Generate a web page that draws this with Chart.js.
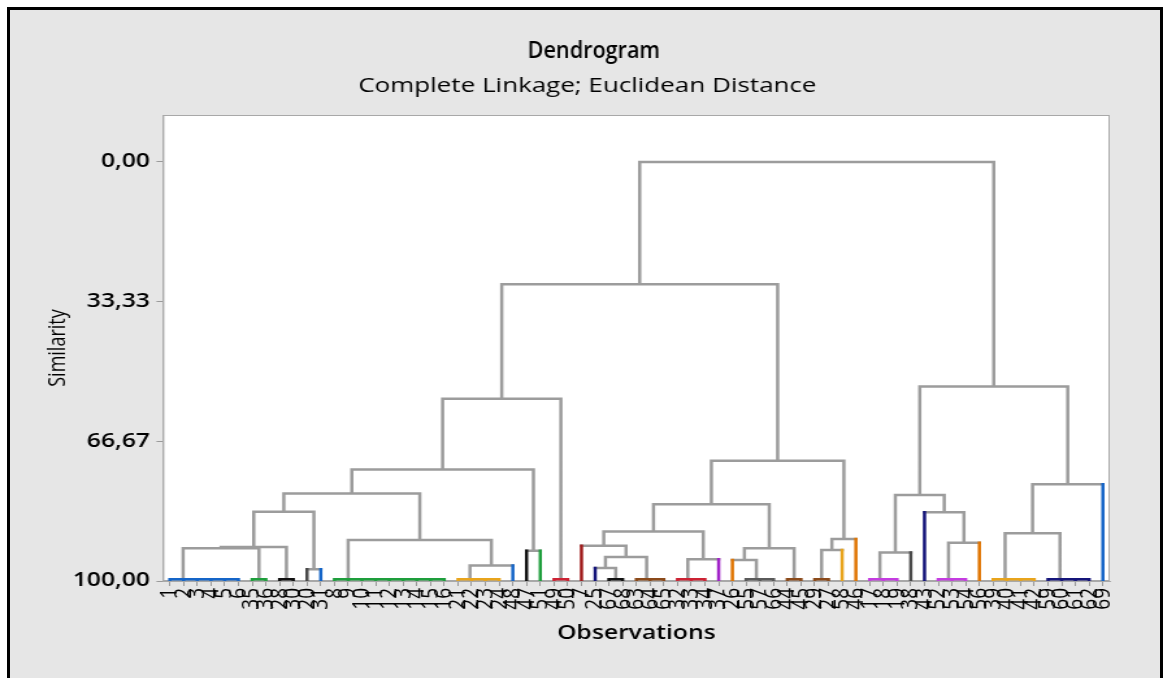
<!DOCTYPE html>
<html>
<head>
<meta charset="utf-8">
<script src="https://cdn.jsdelivr.net/npm/chart.js@4.4.1/dist/chart.umd.min.js"></script>
<style>
  html, body { margin: 0; padding: 0; background: #fff; overflow: hidden; }
  #frame { position: absolute; left: 7px; top: 7px; width: 1156px; height: 680px; background: #e6e6e6;
           border-left: 3px solid #000; border-top: 3px solid #000; border-right: 3px solid #000; box-sizing: border-box; }
  /* the reference picture is stretched sideways, so the chart is drawn narrow and widened */
  #wrap { position: absolute; left: 0; top: 0; width: 895px; height: 678px; transform: scaleX(1.29944); transform-origin: 0 0; }
</style>
</head>
<body>
<div id="frame"></div>
<div id="wrap"><canvas id="dendro" width="895" height="678"></canvas></div>
<script>
var STRETCH = 1.29944;

// leaf order along the x axis
var observations = [1, 2, 3, 4, 5, 6, 35, 36, 28, 30, 20, 31, 8, 9, 10, 11, 12, 13, 14, 15, 16, 21, 22, 23, 24, 48, 47, 51, 49, 50,
  7, 25, 67, 68, 63, 64, 65, 32, 33, 34, 37, 26, 55, 57, 66, 44, 45, 29, 27, 58, 46,
  17, 18, 19, 38, 43, 52, 53, 54, 56, 39, 40, 41, 42, 59, 60, 61, 62, 69];

// [left, right, similarity] ; positive = observation, negative = earlier merge number (1-based)
var merges = [
  [5, 6, 99.6], [4, -1, 99.6], [3, -2, 99.6], [2, -3, 99.6], [1, -4, 99.6],
  [35, 36, 99.6],
  [28, 30, 99.6],
  [15, 16, 99.6], [14, -8, 99.6], [13, -9, 99.6], [12, -10, 99.6], [11, -11, 99.6], [10, -12, 99.6], [9, -13, 99.6], [8, -14, 99.6],
  [23, 24, 99.6], [22, -16, 99.6], [21, -17, 99.6],
  [49, 50, 99.6],
  [67, 68, 99.6],
  [64, 65, 99.6], [63, -21, 99.6],
  [33, 34, 99.6], [32, -23, 99.6],
  [57, 66, 99.6], [55, -25, 99.6],
  [44, 45, 99.6],
  [29, 27, 99.6],
  [18, 19, 99.6], [17, -29, 99.6],
  [53, 54, 99.6], [52, -31, 99.6],
  [41, 42, 99.6], [40, -33, 99.6], [39, -34, 99.6],
  [61, 62, 99.6], [60, -36, 99.6], [59, -37, 99.6],
  [20, 31, 97.2],
  [-18, 48, 96.3],
  [47, 51, 92.8],
  [-5, -6, 92.2],
  [-42, -7, 91.9],
  [-43, -39, 83.5],
  [-15, -40, 90.2],
  [-44, -45, 79.1],
  [-46, -41, 73.4],
  [-47, -19, 56.5],
  [25, -20, 96.9],
  [-49, -22, 94.3],
  [7, -50, 91.6],
  [-24, 37, 94.8],
  [-51, -52, 88.2],
  [26, -26, 95.0],
  [-54, -27, 92.2],
  [-53, -55, 81.7],
  [-28, 58, 92.6],
  [-57, 46, 90.0],
  [-56, -58, 71.3],
  [-48, -59, 29.2],
  [-30, 38, 93.2],
  [-32, 56, 90.9],
  [43, -62, 83.6],
  [-61, -63, 79.5],
  [-35, -38, 88.6],
  [-65, 69, 76.9],
  [-64, -66, 53.6],
  [-60, -67, 0]
];

// final partition
var clusters = [
  [1, 2, 3, 4, 5, 6], [35, 36], [28, 30], [20], [31], [8, 9, 10, 11, 12, 13, 14, 15, 16], [21, 22, 23, 24],
  [48], [47], [51], [49, 50], [7], [25], [67, 68], [63, 64, 65], [32, 33, 34], [37], [26], [55, 57, 66],
  [44, 45], [29, 27], [58], [46], [17, 18, 19], [38], [43], [52, 53, 54], [56], [39, 40, 41, 42], [59, 60, 61, 62], [69]
];
var clusterColors = [
  '#1565c8', '#1e9e3c', '#111111', '#4a4a4a', '#1565c8', '#1e9e3c', '#e8a41c',
  '#1565c8', '#111111', '#1e9e3c', '#cc2233', '#a01c1c', '#15157a', '#111111', '#8b4a1a', '#cc2233', '#a020c8', '#e07400', '#5a5a5a',
  '#8b4a1a', '#8b4a1a', '#e8a41c', '#e07400', '#c43ce0', '#4a4a4a', '#15157a', '#c43ce0', '#e07400', '#e8a41c', '#15157a', '#1565c8'
];

var similarityTicks = [0, 33.33, 66.67, 100];
var similarityLabels = ['0,00', '33,33', '66,67', '100,00'];

var GREY = '#9c9c9c';

// build the link segments from the tree
var leafCluster = {};
clusters.forEach(function(c, k){ c.forEach(function(o){ leafCluster[o] = k; }); });

var nodes = {};
observations.forEach(function(o, i){
  nodes['o' + o] = { x: i + 0.5, y: 100, cluster: leafCluster[o], leaf: true };
});
function node(ref){ return ref > 0 ? nodes['o' + ref] : nodes['m' + (-ref)]; }

var segs = {};
function addSeg(color, x1, y1, x2, y2){
  if (!segs[color]) segs[color] = [];
  segs[color].push({x: x1, y: y1}, {x: x2, y: y2}, {x: x2, y: null});
}

merges.forEach(function(m, k){
  var a = node(m[0]), b = node(m[1]), h = m[2];
  var inside = a.cluster >= 0 && a.cluster === b.cluster;
  var col = inside ? clusterColors[a.cluster] : GREY;
  [a, b].forEach(function(c){
    var vc = inside ? col : (c.leaf ? clusterColors[c.cluster] : GREY);
    addSeg(vc, c.x, c.y, c.x, h);
  });
  addSeg(col, a.x, h, b.x, h);
  nodes['m' + (k + 1)] = { x: (a.x + b.x) / 2, y: h, cluster: inside ? a.cluster : -1, leaf: false };
});

var datasets = Object.keys(segs).map(function(color){
  return {
    data: segs[color],
    borderColor: color,
    borderWidth: 2.5,
    pointRadius: 0,
    spanGaps: false,
    borderCapStyle: 'square',
    order: color === GREY ? 2 : 1,
    clip: {left: 3, right: 3, top: 3, bottom: 0}
  };
});

// white plot area with grey frame, and the two title lines
var plotFrame = {
  id: 'plotFrame',
  beforeDraw: function(chart){
    var a = chart.chartArea, ctx = chart.ctx;
    ctx.save();
    ctx.fillStyle = '#fff';
    ctx.fillRect(a.left, a.top, a.right - a.left, a.bottom - a.top);
    ctx.strokeStyle = '#a8a8a8';
    ctx.lineWidth = 1;
    ctx.strokeRect(a.left + 0.5, a.top + 0.5, a.right - a.left - 1, a.bottom - a.top - 1);
    ctx.fillStyle = '#000';
    ctx.textAlign = 'center';
    ctx.textBaseline = 'middle';
    ctx.font = "20px 'Open Sans'";
    ctx.fillText('Complete Linkage; Euclidean Distance', 452, 86);
    // title is narrower than the rest of the text
    ctx.scale(0.9 / STRETCH, 1);
    ctx.font = "600 24px 'Open Sans'";
    ctx.fillText('Dendrogram', 457 * STRETCH / 0.9, 51);
    ctx.restore();
  }
};

Chart.defaults.font.family = "'Open Sans', sans-serif";
Chart.defaults.color = '#000';

new Chart(document.getElementById('dendro'), {
  type: 'line',
  data: { datasets: datasets },
  plugins: [plotFrame],
  options: {
    responsive: false,
    animation: false,
    layout: { padding: { top: 115, right: 41, bottom: 0, left: 0 } },
    plugins: {
      legend: { display: false },
      tooltip: { enabled: false }
    },
    scales: {
      x: {
        type: 'linear', min: 0, max: observations.length,
        afterBuildTicks: function(scale){
          scale.ticks = observations.map(function(o, i){ return { value: i + 0.5 }; });
        },
        afterFit: function(scale){ scale.height = 97; },
        ticks: {
          autoSkip: false, minRotation: 90, maxRotation: 90, padding: 2,
          font: { size: 19 },
          callback: function(v, i){ return String(observations[i]); }
        },
        grid: { drawOnChartArea: false, drawTicks: true, tickLength: 5, color: '#999' },
        border: { display: true, color: '#a8a8a8' },
        title: {
          display: true, text: 'Observations',
          font: { size: 19, weight: '600' }, padding: { top: 0, bottom: 32.6 }
        }
      },
      y: {
        type: 'linear', reverse: true, min: -11.2, max: 100,
        afterBuildTicks: function(scale){
          scale.ticks = similarityTicks.map(function(v){ return { value: v }; });
        },
        afterFit: function(scale){ scale.width = 125.4; },
        ticks: {
          padding: 5, font: { size: 19, weight: '600' },
          callback: function(v, i){ return similarityLabels[i]; }
        },
        grid: { drawOnChartArea: false, drawTicks: true, tickLength: 5, color: '#999' },
        border: { display: true, color: '#a8a8a8' },
        title: {
          display: true, text: 'Similarity',
          font: { size: 18 }, padding: { top: 33.8, bottom: 0 }
        }
      }
    }
  }
});
</script>
</body>
</html>
